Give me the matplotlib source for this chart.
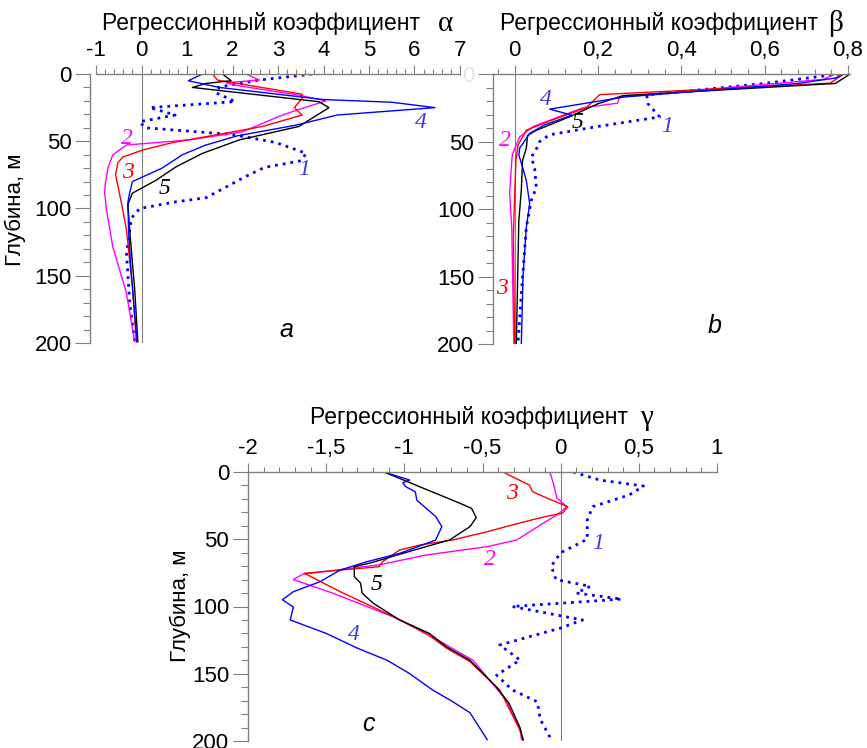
import matplotlib
matplotlib.use('Agg')
import matplotlib.pyplot as plt
from matplotlib.ticker import MultipleLocator, FixedLocator

# panel a: regression coefficient alpha vs depth
a1_val = [3.75, 2.59, 1.71, 1.64, 2.06, 0.18, 0.74, -0.04, 0.08, 2.0, 2.96, 3.62, 3.5, 2.7, 2.3, 1.42, 0.76, -0.04, -0.22, -0.33, -0.26, -0.15]
a1_dep = [0, 4.5, 9.7, 14, 20.5, 25, 30.5, 35.5, 40, 45, 51, 59, 64.5, 69.5, 76, 92, 95, 100, 107, 133, 170, 199]
a2_val = [2.3, 2.59, 1.86, 2.0, 3.5, 4.05, 3.4, 3.1, 2.85, 2.22, 1.05, -0.33, -0.63, -0.74, -0.8, -0.81, -0.77, -0.63, -0.33, -0.15]
a2_dep = [0, 4.5, 6.5, 8, 16, 20, 27, 30.5, 34, 43, 49, 52.8, 60, 70, 82.5, 88, 101, 128.6, 163, 199]
a3_val = [1.56, 1.67, 1.93, 3.53, 3.53, 3.36, 3.53, 2.66, 1.42, 0.68, 0.03, -0.41, -0.52, -0.57, -0.44, -0.33, -0.2, -0.11]
a3_dep = [0, 4.5, 6, 15, 18, 25, 30.5, 39, 46.6, 51, 56.5, 61.7, 66, 75, 96, 116, 158, 199]
a4_val = [1.34, 1.03, 1.71, 4.0, 5.5, 6.45, 4.3, 3.4, 2.1, 1.4, 0.9, 0.45, -0.2, -0.27, -0.3, -0.28, -0.22, -0.1]
a4_dep = [0, 5, 10, 19, 21, 25, 30.5, 38, 46, 53, 60, 70, 80, 90, 96, 120, 150, 199]
a5_val = [1.78, 1.97, 1.42, 1.12, 3.9, 4.12, 3.46, 2.15, 1.34, 0.76, 0.32, -0.2, -0.3, -0.25, -0.15, -0.08]
a5_dep = [0, 5, 7, 10, 20.6, 25, 39, 49, 59, 69, 79, 88.6, 97, 120, 160, 199]

# panel b: beta
b1_val = [0.78, 0.6, 0.317, 0.32, 0.348, 0.197, 0.084, 0.06, 0.055, 0.04, 0.048, 0.052, 0.04, 0.028, 0.016, 0.008]
b1_dep = [0, 7, 15.6, 22, 31.8, 39, 45, 50, 54, 61.6, 70, 84, 93.6, 113.6, 163, 200]
b2_val = [0.77, 0.74, 0.252, 0.247, 0.164, 0.044, 0.012, -0.005, -0.007, -0.012, -0.007, -0.002]
b2_dep = [0, 4, 17, 21.6, 25, 39, 46.6, 59, 64, 88.6, 113.6, 200]
b3_val = [0.79, 0.757, 0.204, 0.172, 0.1, 0.028, 0.008, 0.003, 0.0, -0.003, 0.0]
b3_dep = [0, 6.8, 15.3, 25, 33, 41.6, 52.8, 64, 90, 120, 200]
b4_val = [0.79, 0.77, 0.68, 0.264, 0.084, 0.137, 0.07, 0.036, 0.012, 0.01, 0.019, 0.028, 0.036, 0.028, 0.02, 0.016]
b4_dep = [0, 3, 7, 17, 26, 30.5, 38, 44, 55, 60, 69, 79, 96, 113.6, 150, 200]
b5_val = [0.805, 0.77, 0.26, 0.2, 0.137, 0.05, 0.031, 0.028, 0.019, 0.016, 0.01, 0.004]
b5_dep = [0, 7, 16, 22, 31, 42, 45.6, 55, 64, 86, 108.6, 200]

# panel c: gamma
c1_val = [0.08, 0.25, 0.53, 0.44, 0.205, 0.17, 0.17, 0.0, -0.06, -0.03, 0.19, 0.1, 0.39, -0.31, 0.14, 0.0, -0.39, -0.26, -0.41, -0.31, -0.15, -0.13, -0.06]
c1_dep = [0, 6, 10.4, 17, 25.8, 35.7, 50, 60, 70, 80, 85, 90, 94.5, 100, 110, 116, 128.6, 139.8, 151, 162, 170.8, 184, 199]
c2_val = [-0.07, -0.05, -0.025, 0.04, -0.025, -0.13, -0.28, -0.47, -0.86, -1.16, -1.65, -1.71, -1.46, -1.05, -0.77, -0.56, -0.35, -0.26, -0.25]
c2_dep = [0, 7, 19.3, 25.8, 32, 39.4, 50.5, 55.5, 61.7, 69, 76, 80, 90, 108.6, 126, 140, 169.5, 192, 199]
c3_val = [-0.37, -0.2, -0.18, -0.09, 0.045, 0.013, -0.13, -0.31, -0.47, -0.69, -0.9, -1.03, -1.14, -1.16, -1.64, -1.41, -1.16, -1.03, -0.86, -0.73, -0.58, -0.39, -0.26, -0.24]
c3_dep = [0, 9.7, 14.6, 19.3, 25.8, 30.5, 34, 39.4, 44.4, 50.5, 54.3, 58, 66.7, 70.4, 75.3, 89, 102.6, 110, 120, 131, 141, 162, 192, 200]
c4_val = [-1.13, -0.966, -1.01, -0.99, -0.93, -0.92, -0.8, -0.76, -0.8, -1.03, -1.24, -1.41, -1.54, -1.71, -1.78, -1.71, -1.73, -1.5, -1.3, -1.11, -0.97, -0.82, -0.69, -0.58, -0.47]
c4_dep = [0, 6, 8, 11, 14.7, 21, 33, 40.6, 50.6, 60.5, 66.7, 72.9, 81.6, 89, 95, 100.4, 110, 120, 131, 140, 149.6, 162, 170.8, 179, 199]
c5_val = [-1.13, -0.88, -0.67, -0.57, -0.54, -0.58, -0.71, -0.966, -1.22, -1.32, -1.32, -1.28, -1.27, -1.2, -1.03, -0.84, -0.73, -0.58, -0.41, -0.33, -0.26, -0.24]
c5_dep = [0, 12, 22, 27, 34, 40.6, 50.5, 59, 67.7, 70.4, 77.8, 82.6, 90, 97.5, 110, 120, 130, 140, 160, 172, 190, 199]

a_ticks = [-1, 0, 1, 2, 3, 4, 5, 6, 7]
a_labels = ['-1', '0', '1', '2', '3', '4', '5', '6', '7']
b_ticks = [0, 0.2, 0.4, 0.6, 0.8]
b_labels = ['0', '0,2', '0,4', '0,6', '0,8']
c_ticks = [-2, -1.5, -1, -0.5, 0, 0.5, 1]
c_labels = ['-2', '-1,5', '-1', '-0,5', '0', '0,5', '1']
depth_ticks = [0, 50, 100, 150, 200]

W, H = 867, 748
SANS = 'Liberation Sans'
SERIF = 'Liberation Serif'
GRAY = '#808080'
BLUE = '#0000ff'
LBLUE = '#3c3cd8'
MAG = '#ff00ff'
RED = '#ff0000'
FS = 16


def make_axes(fig, left, top, right, bottom, xlim, ticks, labels, minor, offset=0):
    ax = fig.add_axes([left / W, 1 - bottom / H, (right - left) / W, (bottom - top) / H])
    ax.set_xlim(*xlim)
    ax.set_ylim(200, 0)
    ax.patch.set_alpha(0)
    for s in ['right', 'bottom']:
        ax.spines[s].set_visible(False)
    for s in ['left', 'top']:
        ax.spines[s].set_color(GRAY)
        ax.spines[s].set_linewidth(1.0)
    if offset:
        ax.spines['left'].set_position(('outward', offset))
    ax.xaxis.tick_top()
    ax.xaxis.set_major_locator(FixedLocator(ticks))
    ax.set_xticklabels(labels)
    ax.xaxis.set_minor_locator(MultipleLocator(minor))
    ax.yaxis.set_major_locator(FixedLocator(depth_ticks))
    ax.set_yticklabels([str(d) for d in depth_ticks])
    ax.yaxis.set_minor_locator(MultipleLocator(10))
    ax.tick_params(axis='x', which='major', length=6.5, width=0.8, color=GRAY, pad=3,
                   labelsize=FS)
    ax.tick_params(axis='x', which='minor', length=3.8, width=0.8, color=GRAY)
    ax.tick_params(axis='y', which='major', length=10.5, width=0.8, color=GRAY, pad=3,
                   labelsize=FS)
    ax.tick_params(axis='y', which='minor', length=5, width=0.8, color=GRAY)
    for t in ax.get_xticklabels() + ax.get_yticklabels():
        t.set_fontfamily(SANS)
    ax.plot([0, 0], [0, 200], color=GRAY, lw=0.8)
    return ax


def draw_lines(ax, s1, s2, s3, s4, s5):
    ax.plot(s1[0], s1[1], color=BLUE, lw=2.0, linestyle=(0, (1, 1.8)))
    ax.plot(s2[0], s2[1], color=MAG, lw=1.0)
    ax.plot(s3[0], s3[1], color=RED, lw=1.0)
    ax.plot(s5[0], s5[1], color='black', lw=1.0)
    ax.plot(s4[0], s4[1], color=BLUE, lw=1.0)


def num(ax, x, y, s, color):
    ax.text(x, y, s, color=color, fontsize=17, fontstyle='italic', family=SERIF,
            ha='center', va='center')


def title(fig, x_text, x_greek, y, text, greek):
    # y is the baseline in pixels from the top
    fig.text(x_text / W, 1 - y / H, text, fontsize=16.5, family=SANS, ha='left',
             va='baseline')
    fig.text(x_greek / W, 1 - (y + 1) / H, greek, fontsize=21, family=SERIF, ha='left',
             va='baseline')


def ylabel(fig, x, y):
    fig.text(x / W, 1 - y / H, 'Глубина, м', fontsize=FS, family=SANS, rotation=90,
             ha='center', va='center')


def main():
    fig = plt.figure(figsize=(W / 100, H / 100), dpi=100)

    # panel a
    ax = make_axes(fig, 96, 74, 460, 343, (-1, 7), a_ticks, a_labels, 0.2, offset=4)
    draw_lines(ax, (a1_val, a1_dep), (a2_val, a2_dep), (a3_val, a3_dep),
               (a4_val, a4_dep), (a5_val, a5_dep))
    num(ax, -0.33, 48, '2', MAG)
    num(ax, -0.29, 73, '3', RED)
    num(ax, 0.5, 85, '5', 'black')
    num(ax, 3.57, 71, '1', LBLUE)
    num(ax, 6.14, 36, '4', LBLUE)
    ax.text(3.18, 190, 'a', fontsize=18, fontstyle='italic', family=SANS, ha='center',
            va='center')
    ylabel(fig, 15, 210)
    title(fig, 102, 438, 30, 'Регрессионный коэффициент', 'α')

    # panel b
    ax = make_axes(fig, 493, 74, 850, 344, (-0.052, 0.805), b_ticks, b_labels, 0.04)
    draw_lines(ax, (b1_val, b1_dep), (b2_val, b2_dep), (b3_val, b3_dep),
               (b4_val, b4_dep), (b5_val, b5_dep))
    ax.get_yticklabels()[0].set_color('#e4e4e4')
    num(ax, 0.074, 19, '4', LBLUE)
    num(ax, 0.152, 36, '5', 'black')
    num(ax, 0.365, 39, '1', LBLUE)
    num(ax, -0.024, 49, '2', MAG)
    num(ax, -0.031, 159, '3', RED)
    ax.text(0.48, 187, 'b', fontsize=18, fontstyle='italic', family=SANS, ha='center',
            va='center')
    title(fig, 500, 828, 30, 'Регрессионный коэффициент', 'β')

    # panel c
    ax = make_axes(fig, 248, 472, 717, 741, (-2, 1), c_ticks, c_labels, 0.1)
    draw_lines(ax, (c1_val, c1_dep), (c2_val, c2_dep), (c3_val, c3_dep),
               (c4_val, c4_dep), (c5_val, c5_dep))
    num(ax, -0.31, 16, '3', RED)
    num(ax, 0.24, 53, '1', LBLUE)
    num(ax, -0.45, 65, '2', MAG)
    num(ax, -1.18, 84, '5', 'black')
    num(ax, -1.32, 121, '4', LBLUE)
    ax.text(-1.23, 187, 'c', fontsize=18, fontstyle='italic', family=SANS, ha='center',
            va='center')
    ylabel(fig, 180, 606)
    title(fig, 310, 640, 424, 'Регрессионный коэффициент', 'γ')

    fig.savefig('out.png', dpi=100)


if __name__ == '__main__':
    main()
